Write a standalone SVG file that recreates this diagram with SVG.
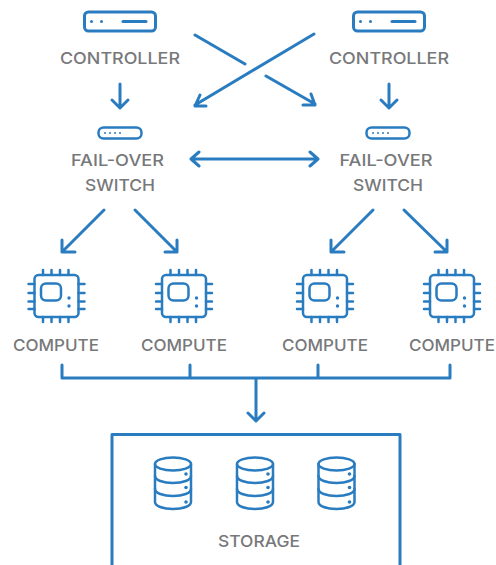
<svg xmlns="http://www.w3.org/2000/svg" width="496" height="565" viewBox="0 0 496 565">
<style>
.s{fill:none;stroke:#2a7cc0;stroke-width:3;stroke-linecap:round;stroke-linejoin:round}
.t{stroke-width:2.5}
.d{fill:#2a7cc0}
text{font-family:"Inter","Liberation Sans",sans-serif;font-size:16px;font-weight:500;fill:#77787a;text-anchor:middle}
</style>
<defs>
<g id="ctl"><rect class="s" x="-35.500" y="-9.500" width="71" height="19" rx="4"/><circle class="d" cx="-28.500" cy="0" r="1.500"/><circle class="d" cx="-18.500" cy="0" r="1.500"/><path class="s" d="M3 0H26"/></g>
<g id="sw"><rect class="s t" x="-21.500" y="-5.500" width="43" height="11" rx="5"/><circle class="d" cx="-15" cy="0" r="1"/><circle class="d" cx="-10" cy="0" r="1"/><circle class="d" cx="-5" cy="0" r="1"/><circle class="d" cx="0" cy="0" r="1"/></g>
<g id="chip"><rect class="s t" x="-22" y="-21" width="44" height="42" rx="4"/><rect class="s t" x="-15.500" y="-12.500" width="20" height="17" rx="5"/><circle class="d" cx="12.500" cy="2" r="1.700"/><circle class="d" cx="12.500" cy="10" r="1.700"/><path class="s t" d="M-28-12h6M-28-3h6M-28 5.500h6M-28 13h6M22-12h6M22-3h6M22 5.500h6M22 13h6M-13.500-26v5M-5-26v5M3.500-26v5M12-26v5M-13.500 21v5M-5 21v5M3.500 21v5M12 21v5"/></g>
<g id="db"><path class="s t" d="M-18-19V19C-18 23-10 26 0 26S18 23 18 19V-19"/><ellipse class="s t" cx="0" cy="-19" rx="18" ry="6.500"/><path class="s t" d="M-18-7C-18-3-10 0 0 0S18-3 18-7M-18 6C-18 10-10 13 0 13S18 10 18 6"/><circle class="d" cx="13" cy="-9" r="1.800"/><circle class="d" cx="13" cy="4.500" r="1.800"/><circle class="d" cx="13" cy="19" r="1.800"/></g>
</defs>
<g id="connectors">
<path class="s" d="M120 84V107M112 100L120 108L128 100"/>
<path class="s" d="M389 84V107M381 100L389 108L397 100"/>
<path class="s" d="M195 35L245 64M266 76L315 104M303 105H315L311 94"/>
<path class="s" d="M314 34L195 105M206 106H195L200 95"/>
<path class="s" d="M191 159H318M199 152L191 159L199 166M310 152L318 159L310 166"/>
<path class="s" d="M104 210L62 252M62 240V252H75"/>
<path class="s" d="M135 210L177 252M165 252H177V240"/>
<path class="s" d="M373 210L331 252M331 240V252H344"/>
<path class="s" d="M404 210L447 252M435 252H447V240"/>
<path class="s" d="M62 365V378H450V365M190 365V378M318 365V378M256 378V421M248 413L256 421L264 413"/>
</g>
<g id="controller-1"><use href="#ctl" x="120" y="21.500"/><text x="120" y="64" textLength="120" lengthAdjust="spacingAndGlyphs">CONTROLLER</text></g>
<g id="controller-2"><use href="#ctl" x="389" y="21.500"/><text x="389" y="64" textLength="120" lengthAdjust="spacingAndGlyphs">CONTROLLER</text></g>
<g id="switch-1"><use href="#sw" x="120" y="133"/><text x="117.500" y="166" textLength="93" lengthAdjust="spacingAndGlyphs">FAIL-OVER</text><text x="120" y="191" textLength="70" lengthAdjust="spacingAndGlyphs">SWITCH</text></g>
<g id="switch-2"><use href="#sw" x="388" y="133"/><text x="386" y="166" textLength="93" lengthAdjust="spacingAndGlyphs">FAIL-OVER</text><text x="388" y="191" textLength="70" lengthAdjust="spacingAndGlyphs">SWITCH</text></g>
<g id="compute-1"><use href="#chip" x="56.500" y="296"/><text x="56" y="351" textLength="86" lengthAdjust="spacingAndGlyphs">COMPUTE</text></g>
<g id="compute-2"><use href="#chip" x="184" y="296"/><text x="184" y="351" textLength="86" lengthAdjust="spacingAndGlyphs">COMPUTE</text></g>
<g id="compute-3"><use href="#chip" x="325" y="296"/><text x="325" y="351" textLength="86" lengthAdjust="spacingAndGlyphs">COMPUTE</text></g>
<g id="compute-4"><use href="#chip" x="452" y="296"/><text x="452" y="351" textLength="86" lengthAdjust="spacingAndGlyphs">COMPUTE</text></g>
<g id="storage">
<path class="s" d="M112 565V434.500H400V565"/>
<use href="#db" x="173" y="483"/><use href="#db" x="255" y="483"/><use href="#db" x="336.500" y="483"/>
<text x="259" y="547" textLength="82" lengthAdjust="spacingAndGlyphs">STORAGE</text>
</g>
</svg>
